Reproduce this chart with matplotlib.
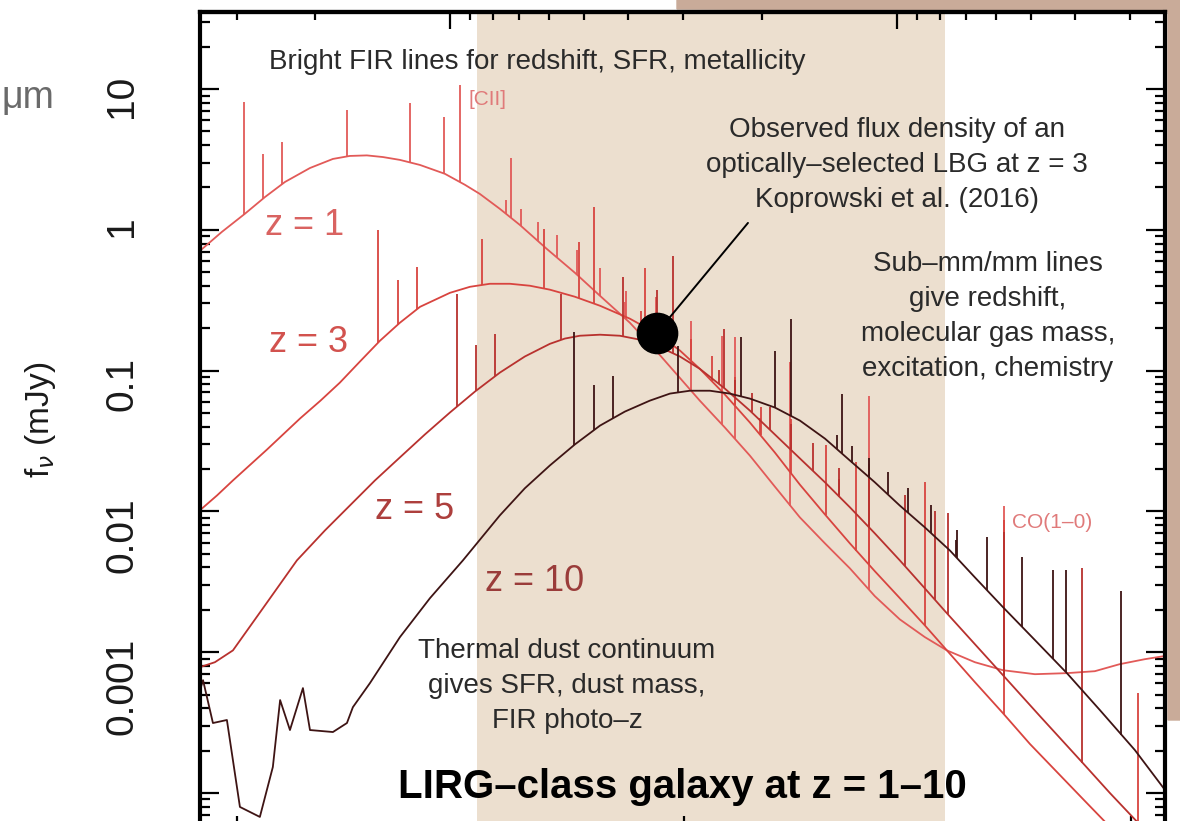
import numpy as np
import matplotlib.pyplot as plt
from matplotlib.patches import Polygon

plt.rcParams['font.family'] = ['Liberation Sans', 'DejaVu Sans']

# continuum SEDs of a LIRG: observed wavelength (um) and flux density (mJy)
z1_wave = [82.8, 92.7, 104.3, 115.7, 128.3, 145.9, 164.2, 179.1, 195.6, 212.4, 231.9, 257.2,
           292.4, 324.1, 350, 388, 430, 494, 571, 650, 758, 872, 1087, 1237, 1407, 1600,
           1820, 2071, 2355, 2678, 3046, 3465, 3882, 4484, 5181, 6108, 7203, 8318, 9450,
           10760, 12240]
z1_flux = [0.710, 0.968, 1.30, 1.71, 2.19, 2.75, 3.19, 3.35, 3.38, 3.29, 3.14, 2.89,
           2.50, 2.09, 1.80, 1.41, 1.085, 0.733, 0.496, 0.340, 0.219, 0.136, 0.0612,
           0.0394, 0.0249, 0.0150, 0.00907, 0.00593, 0.00394, 0.00250, 0.00171, 0.00128,
           0.00103, 0.000849, 0.000745, 0.000698, 0.00071, 0.000733, 0.000822, 0.000892,
           0.000952]

z3_wave = [82.8, 90.4, 98.1, 116.9, 138.6, 154, 170.2, 188.7, 209.2, 231.9, 257.2, 300,
           332.6, 368.6, 408.7, 453, 502, 571, 650, 758, 872, 981, 1087, 1237, 1407, 1600,
           1820, 2071, 2355, 2678, 3046, 3465, 3882, 4484, 5181, 5953, 6948, 7902, 9127,
           10500, 11940]
z3_flux = [0.0102, 0.0130, 0.0166, 0.0275, 0.0457, 0.0612, 0.0822, 0.116, 0.163, 0.219,
           0.284, 0.357, 0.394, 0.414, 0.414, 0.401, 0.376, 0.335, 0.289, 0.234, 0.183,
           0.139, 0.103, 0.0676, 0.0428, 0.0262, 0.0155, 0.00952, 0.00593, 0.00376,
           0.00242, 0.00155, 0.00103, 0.000613, 0.000369, 0.000223, 0.000134, 0.0000877,
           0.0000547, 0.0000335, 0.0000215]

z5_wave = [82.8, 89.4, 98.1, 115.7, 136.4, 157.6, 179.1, 203.9, 231.9, 263.7, 300, 341.3,
           388, 441.3, 502, 542.5, 586, 650, 720, 798, 872, 981, 1087, 1237, 1407, 1600,
           1820, 2071, 2355, 2678, 3046, 3465, 3882, 4484, 5181, 6266, 7821, 8988, 10500]
z5_flux = [0.000783, 0.000849, 0.00103, 0.00215, 0.00449, 0.00733, 0.0110, 0.0166, 0.0242,
           0.0352, 0.0504, 0.0710, 0.0968, 0.126, 0.155, 0.169, 0.177, 0.180, 0.177, 0.166,
           0.150, 0.126, 0.103, 0.0745, 0.052, 0.0352, 0.0238, 0.0161, 0.0107, 0.00698,
           0.00449, 0.00284, 0.00189, 0.00114, 0.000687, 0.000352, 0.000163, 0.0001,
           0.0000593]

z10_wave = [82.8, 84.1, 88.5, 95.1, 98.1, 101.7, 112.7, 120.5, 125.1, 131.6, 140.7, 145.9,
            164.2, 176.5, 182.0, 198.7, 231.9, 270.7, 320.8, 388, 441.3, 502, 571, 650, 739,
            840, 932, 1033, 1145, 1269, 1407, 1600, 1820, 2071, 2355, 2678, 3046, 3465,
            3942, 4484, 5181, 6108, 7203, 8537, 10220, 11940]
z10_flux = [0.000537, 0.000633, 0.000314, 0.00033, 0.000171, 0.0000796, 0.0000676,
            0.000153, 0.000457, 0.00028, 0.000556, 0.00028, 0.000271, 0.000314, 0.000407,
            0.000603, 0.00128, 0.00242, 0.00449, 0.00937, 0.0146, 0.0212, 0.0299, 0.0407,
            0.0512, 0.0612, 0.0687, 0.072, 0.072, 0.0687, 0.0633, 0.0547, 0.0442, 0.0329,
            0.0230, 0.0161, 0.0110, 0.0077, 0.00528, 0.0034, 0.00209, 0.00122, 0.00071,
            0.000388, 0.000202, 0.000105]

redshifts = [1, 3, 5, 10]

# rest-frame FIR / submm lines (um) and their peak height above the continuum (dex)
line_rest = [51.8, 57.3, 63.2, 88.4, 121.9, 145.5, 157.7, 205.2,
             200.3, 216.9, 236.6, 260.2, 289.1, 325.2, 370.4, 371.6,
             433.6, 520.2, 609.1, 650.3, 867.0, 1300.4, 2600.8]
line_dex = [0.80, 0.32, 0.30, 0.33, 0.42, 0.40, 0.69, 0.42,
            0.10, 0.12, 0.14, 0.16, 0.18, 0.20, 0.12, 0.20,
            0.38, 0.50, 0.63, 0.72, 1.02, 1.38, 1.17]

# Koprowski et al. (2016) LBG point
lbg_wave, lbg_flux = 872, 0.186

# shaded submm/mm window
band_lo, band_hi = 345, 3840

curves = [(z1_wave, z1_flux), (z3_wave, z3_flux), (z5_wave, z5_flux), (z10_wave, z10_flux)]
colors = ['#e25a58', '#d8443f', '#b8312e', '#3e1414']
label_colors = ['#d96361', '#d2524e', '#ad3f3d', '#9a3c3a']
label_pos = [(305, 226), (308, 343), (415, 510), (535, 582)]


def to_ghz(w):
    w = np.asarray(w, dtype=float)
    with np.errstate(divide='ignore'):
        return 299792.458 / w


def px(x, y):
    # figure pixel -> axes fraction
    return (x - 200) / 965, (835.4 - y) / 822.9


fig = plt.figure(figsize=(11.8, 8.21), dpi=100)
fig.patches.append(Polygon([(677 / 1180, 1), (1, 1), (1, 1 - 720 / 821), (1168 / 1180, 1 - 720 / 821),
                            (1168 / 1180, 1 - 11 / 821), (677 / 1180, 1 - 9 / 821)],
                           closed=True, transform=fig.transFigure, color='#c9ab99', zorder=-5))

ax = fig.add_axes([0.1695, -0.0175, 0.8178, 1.0023])
ax.set_xscale('log')
ax.set_yscale('log')
ax.set_xlim(82.8, 11940)
ax.set_ylim(5e-5, 35)

ax.axvspan(band_lo, band_hi, color='#ecdfcf', zorder=0, lw=0)

for (wave, flux), z, c in zip(curves, redshifts, colors):
    ax.plot(wave, flux, color=c, lw=1.3, zorder=2)
    obs = np.array(line_rest) * (1 + z)
    keep = obs < max(wave)
    base = 10 ** np.interp(np.log10(obs[keep]), np.log10(wave), np.log10(flux))
    top = base * 10 ** np.array(line_dex)[keep]
    ax.vlines(obs[keep], base, top, colors=c, lw=1.3, zorder=2)

for z, c, (x, y) in zip(redshifts, label_colors, label_pos):
    ax.text(*px(x, y), f'z = {z}', transform=ax.transAxes, color=c, fontsize=26,
            ha='center', va='center')

ax.plot(lbg_wave, lbg_flux, 'o', color='black', ms=29, zorder=4)
ax.annotate('', xy=(lbg_wave, lbg_flux), xytext=(1393, 1.12),
            arrowprops=dict(arrowstyle='-', color='black', lw=1.4, shrinkA=0, shrinkB=14))

txt = dict(transform=ax.transAxes, fontsize=20, color='#2a2a2a', ha='center', va='center',
           linespacing=1.45)
ax.text(*px(537, 62), 'Bright FIR lines for redshift, SFR, metallicity', **txt)
ax.text(*px(897, 165), 'Observed flux density of an\noptically\u2013selected LBG at z = 3\n'
        'Koprowski et al. (2016)', **txt)
ax.text(*px(988, 317), 'Sub\u2013mm/mm lines\ngive redshift,\nmolecular gas mass,\n'
        'excitation, chemistry', **txt)
ax.text(*px(567, 686), 'Thermal dust continuum\ngives SFR, dust mass,\nFIR photo\u2013z', **txt)
ax.text(*px(682, 787), 'LIRG\u2013class galaxy at z = 1\u201310', transform=ax.transAxes,
        fontsize=29, fontweight='bold', color='black', ha='center', va='center')
ax.text(*px(468, 100), '[CII]', transform=ax.transAxes, fontsize=15, color='#e07a7a',
        ha='left', va='center')
ax.text(*px(1012, 523), 'CO(1\u20130)', transform=ax.transAxes, fontsize=15, color='#e07a7a',
        ha='left', va='center')

# axes styling
for side in ['left', 'right', 'top', 'bottom']:
    ax.spines[side].set_linewidth(3)
ax.set_yticks([1e-4, 1e-3, 1e-2, 1e-1, 1, 10])
ax.set_yticklabels(['', '0.001', '0.01', '0.1', '1', '10'])
ax.tick_params(which='both', direction='in', top=False, right=True, width=1.6,
               labelbottom=False)
ax.tick_params(which='major', length=14)
ax.tick_params(which='minor', length=7)
ax.tick_params(axis='y', labelsize=28, labelrotation=90, pad=43, labelcolor='#1a1a1a')

sec = ax.secondary_xaxis('top', functions=(to_ghz, to_ghz))
sec.spines['top'].set_linewidth(3)
sec.tick_params(which='both', direction='in', width=1.6, labeltop=False)
sec.tick_params(which='major', length=12)
sec.tick_params(which='minor', length=6)

fig.text(40 / 1180, 1 - 420 / 821, r'f$_\nu$ (mJy)', rotation=90, fontsize=24,
         ha='center', va='center', color='#1a1a1a')
fig.text(2 / 1180, 1 - 98 / 821, '\u03bcm', ha='left', va='center', fontsize=27,
         color='#6a6a6a')

fig.savefig('out.png', dpi=100)
